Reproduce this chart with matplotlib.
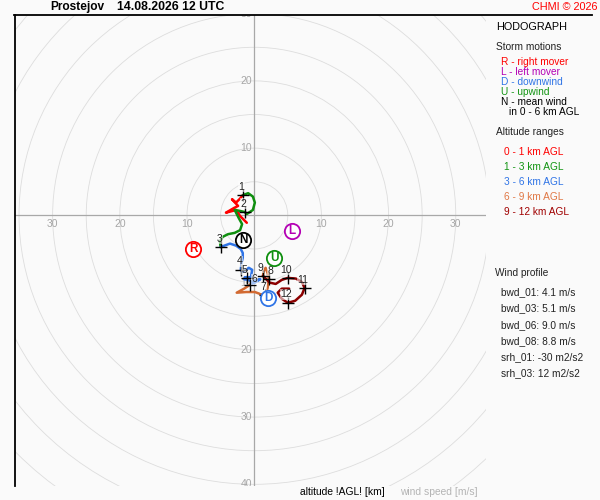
import matplotlib
matplotlib.use("Agg")
import matplotlib.pyplot as plt
from matplotlib.patches import Circle
from matplotlib.lines import Line2D

plt.rcParams['font.family'] = ['Liberation Sans', 'DejaVu Sans']

# hodograph layers (u, v in m/s)
layer_names = ["0 - 1 km AGL", "1 - 3 km AGL", "3 - 6 km AGL", "6 - 9 km AGL", "9 - 12 km AGL"]
layer_colors = ["#ff0000", "#0f8f0f", "#2f74e6", "#d26a32", "#8c0000"]

u_0_1 = [-1.1, -2.1, -2.7, -4.2, -3.0, -2.4, -3.3, -2.7, -2.1, -1.7]
v_0_1 = [-1.1, -0.1, 0.8, 0.4, 1.1, 1.4, 2.4, 1.9, 2.5, 3.0]
u_1_3 = [-1.7, -0.9, -0.2, 0.1, -0.2, -1.1, -1.4, -2.3, -2.9, -2.7, -2.3, -1.8, -2.1, -2.9, -3.9, -4.7, -5.1, -5.0]
v_1_3 = [3.0, 3.3, 2.8, 1.9, 0.8, 0.2, 0.5, 0.7, 0.8, 0.4, -0.4, -1.3, -2.2, -2.6, -2.8, -3.2, -3.9, -4.7]
u_3_6 = [-5.0, -3.6, -2.7, -2.0, -1.7, -1.7, -1.9, -2.0, -1.8, -1.2, -0.8, -0.3, -0.5, -1.4, -1.5, -0.9, -0.3, 0.3, 0.9, 0.1, -0.6]
v_3_6 = [-4.7, -4.2, -4.5, -5.0, -5.6, -6.3, -7.1, -8.1, -8.4, -8.1, -7.8, -8.1, -9.2, -9.2, -9.5, -9.6, -9.9, -9.6, -9.5, -10.0, -10.3]
u_6_9 = [-0.6, -1.5, -2.6, -1.2, 0.1, 0.9, 1.6, 2.0, 2.2, 2.0, 1.7, 1.4, 1.3]
v_6_9 = [-10.3, -10.9, -11.5, -11.4, -11.4, -11.7, -11.9, -10.8, -9.5, -8.6, -7.8, -8.3, -9.0]
u_9_12 = [1.3, 2.3, 3.2, 4.1, 5.0, 6.2, 7.1, 7.5, 7.1, 6.1, 5.0, 4.1, 3.5, 4.1, 5.2]
v_9_12 = [-9.0, -10.0, -10.2, -9.6, -9.3, -9.4, -9.9, -10.8, -11.8, -12.7, -13.0, -12.4, -11.5, -10.9, -10.9]

layers_u = [u_0_1, u_1_3, u_3_6, u_6_9, u_9_12]
layers_v = [v_0_1, v_1_3, v_3_6, v_6_9, v_9_12]

# km marks
km_labels = ["1", "2", "3", "4", "5", "6", "7", "8", "9", "10", "11", "12"]
km_u = [-1.7, -1.4, -5.0, -2.0, -1.1, -0.6, 1.6, 2.2, 1.3, 5.0, 7.5, 5.0]
km_v = [3.0, 0.5, -4.7, -8.1, -9.3, -10.3, -11.9, -9.5, -9.0, -9.3, -10.8, -13.0]
km_offx = [-1, -1, -1, -1, -2, 3, -1, 1, -2, -1, -1, -1]
km_offy = [6, 6, 6, 6, 6, 4, 6, 6, 6, 6, 6, 6]

# storm motions
storm_letters = ["R", "L", "U", "D", "N"]
storm_u = [-9.1, 5.6, 3.0, 2.1, -1.6]
storm_v = [-5.0, -2.3, -6.4, -12.3, -3.6]
storm_colors = ["#ff0000", "#b400b4", "#0f8f0f", "#2f74e6", "#000000"]

legend_storm = ["R - right mover", "L - left mover", "D - downwind", "U - upwind", "N - mean wind"]
legend_storm_colors = ["#ff0000", "#b400b4", "#2f74e6", "#129412", "#000000"]
legend_layer_colors = ["#ff0000", "#129412", "#2f74e6", "#e07845", "#a00000"]

wind_profile = ["bwd_01: 4.1 m/s", "bwd_03: 5.1 m/s", "bwd_06: 9.0 m/s", "bwd_08: 8.8 m/s"]
helicity = ["srh_01: -30 m2/s2", "srh_03: 12 m2/s2"]

ring_speeds = list(range(5, 60, 5))
tick_vals = [10, 20, 30]

bg = "#fafafa"
fig = plt.figure(figsize=(6, 5), dpi=100, facecolor=bg)
W, H = 600, 500


def fx(x):
    return x / W


def fy(y):
    return 1 - y / H


ax = fig.add_axes([fx(15), fy(486), 471 / W, 471 / H])
ax.set_facecolor(bg)
ax.set_xlim(-35.6, 34.5)
ax.set_ylim(-40.25, 29.8)
ax.set_xticks([])
ax.set_yticks([])
for s in ["right", "bottom", "top"]:
    ax.spines[s].set_visible(False)
ax.spines["left"].set_linewidth(1.3)

for r in ring_speeds:
    ax.add_patch(Circle((0, 0), r, fill=False, ec="#dddddd", lw=0.6, zorder=1))
ax.axhline(0, color="#a8a8a8", lw=0.9, zorder=2)
ax.axvline(0, color="#a8a8a8", lw=0.9, zorder=2)

for t in tick_vals:
    for sgn in (-1, 1):
        ax.text(sgn * t, -1.3, str(t), color="#a6a6a6", fontsize=7.5,
                ha="center", va="center", zorder=2, clip_on=True)
for t in [10, 20, 30, -10, -20, -30, -40]:
    ax.text(-0.3, t, str(abs(t)), color="#a6a6a6", fontsize=7.5,
            ha="right", va="center", zorder=2, clip_on=True)

for lu, lv, c in zip(layers_u, layers_v, layer_colors):
    ax.plot(lu, lv, color=c, lw=1.8, zorder=4, solid_capstyle="round")

ax.plot(km_u, km_v, "+", color="black", ms=9, mew=1, zorder=5)
for lab, ku, kv, ox, oy in zip(km_labels, km_u, km_v, km_offx, km_offy):
    ax.annotate(lab, (ku, kv), xytext=(ox, oy), textcoords="offset points",
                fontsize=7.5, color="#222222", ha="center", va="center", zorder=6,
                bbox=dict(boxstyle="square,pad=0.05", fc="white", ec="none", alpha=0.55))

for let, su, sv, c in zip(storm_letters, storm_u, storm_v, storm_colors):
    ax.plot(su, sv, "o", ms=11, mfc="white", mec=c, mew=1.3, zorder=7)
    ax.text(su, sv, let, color=c, fontsize=8.5, fontweight="bold",
            ha="center", va="center", zorder=8)

# top frame line
fig.add_artist(Line2D([fx(14.4), fx(592)], [fy(15), fy(15)], color="black", lw=1.3))

fig.text(fx(50), fy(7), "Prostejov", fontsize=8.6, fontweight="bold", va="center")
fig.text(fx(117), fy(7), "14.08.2026 12 UTC", fontsize=8.8, fontweight="bold", va="center")
fig.text(fx(597), fy(7), "CHMI © 2026", fontsize=7.8, color="#ff0000", ha="right", va="center")

fig.text(fx(496), fy(27), "HODOGRAPH", fontsize=7.8, va="center")
fig.text(fx(496), fy(47), "Storm motions", fontsize=7.3, color="#222222", va="center")
for i, (txt, c) in enumerate(zip(legend_storm, legend_storm_colors)):
    fig.text(fx(501), fy(62 + 10 * i), txt, fontsize=7.3, color=c, va="center")
fig.text(fx(509), fy(112), "in 0 - 6 km AGL", fontsize=7.3, va="center")

fig.text(fx(496), fy(132), "Altitude ranges", fontsize=7.3, color="#222222", va="center")
for i, (txt, c) in enumerate(zip(layer_names, legend_layer_colors)):
    fig.text(fx(504), fy(152 + 15 * i), txt, fontsize=7.3, color=c, va="center")

fig.text(fx(495), fy(273), "Wind profile", fontsize=7.3, color="#222222", va="center")
for i, txt in enumerate(wind_profile):
    fig.text(fx(501), fy(292 + 16.5 * i), txt, fontsize=7.3, color="#222222", va="center")
for i, txt in enumerate(helicity):
    fig.text(fx(501), fy(357 + 16.5 * i), txt, fontsize=7.3, color="#222222", va="center")

fig.text(fx(300), fy(492), "altitude !AGL! [km]", fontsize=7.4, va="center")
fig.text(fx(400), fy(492), "wind speed [m/s]", fontsize=7.4, color="#b4b4b4", va="center")

fig.savefig("out.png", dpi=100, facecolor=bg)
